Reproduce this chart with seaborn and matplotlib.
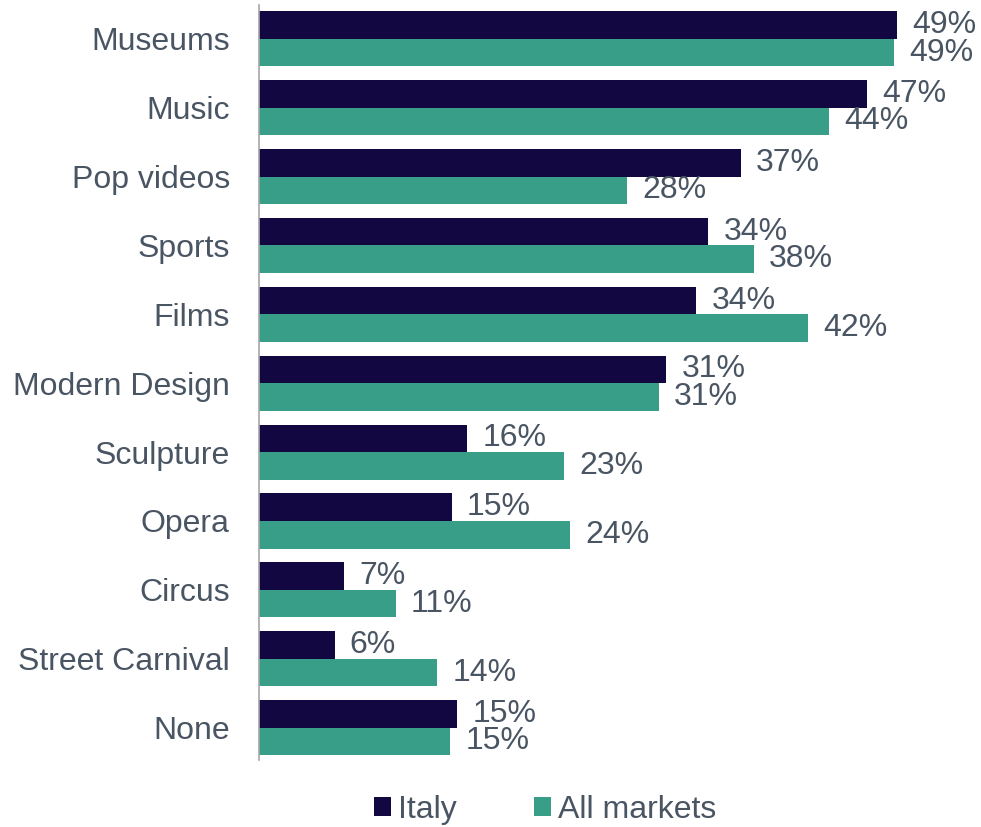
import matplotlib
matplotlib.use("Agg")
import matplotlib.pyplot as plt
import seaborn as sns
import pandas as pd

categories = ["Museums", "Music", "Pop videos", "Sports", "Films", "Modern Design",
              "Sculpture", "Opera", "Circus", "Street Carnival", "None"]
italy = [49.0, 46.7, 37.0, 34.5, 33.6, 31.3, 16.0, 14.8, 6.5, 5.8, 15.2]
all_markets = [48.8, 43.8, 28.3, 38.0, 42.2, 30.7, 23.4, 23.9, 10.5, 13.7, 14.7]
italy_labels = [49, 47, 37, 34, 34, 31, 16, 15, 7, 6, 15]
all_labels = [49, 44, 28, 38, 42, 31, 23, 24, 11, 14, 15]
series_names = ["Italy", "All markets"]

df = pd.DataFrame({
    "category": categories * 2,
    "value": italy + all_markets,
    "series": [series_names[0]] * len(categories) + [series_names[1]] * len(categories),
})

sns.set_style("white")
plt.rcParams["font.family"] = ["Liberation Sans", "DejaVu Sans"]
text_color = "#4A5563"
fs = 23

fig = plt.figure(figsize=(9.81, 8.27), dpi=100)
ax = fig.add_axes([259 / 981, 1 - 760 / 827, (975 - 259) / 981, 755 / 827])

palette = {"Italy": "#130742", "All markets": "#389E88"}
sns.barplot(data=df, y="category", x="value", hue="series", order=categories,
            hue_order=series_names, palette=palette, orient="h", width=0.8,
            ax=ax, legend=True, saturation=1, linewidth=0)

for cont, labs in zip(ax.containers, [italy_labels, all_labels]):
    ax.bar_label(cont, labels=[f"{v}%" for v in labs], padding=11,
                 fontsize=fs, color=text_color)

ax.set_xlim(0, 55)
ax.set_ylim(10.47, -0.49)
ax.set_xlabel("")
ax.set_ylabel("")
ax.set_xticks([])
ax.tick_params(axis="y", length=0, pad=21, labelsize=fs, labelcolor=text_color)
for s in ["top", "right", "bottom"]:
    ax.spines[s].set_visible(False)
ax.spines["left"].set_color("#A6A6A6")
ax.spines["left"].set_linewidth(1.2)

handles, labels = ax.get_legend_handles_labels()
ax.get_legend().remove()
leg = fig.legend(handles, labels, loc="center", bbox_to_anchor=(545 / 981, 1 - 810 / 827),
                 ncol=2, frameon=False, fontsize=fs, handlelength=0.55, handleheight=0.55,
                 handletextpad=0.22, columnspacing=2.4)
for t in leg.get_texts():
    t.set_color(text_color)

fig.savefig("out.png", dpi=100)
